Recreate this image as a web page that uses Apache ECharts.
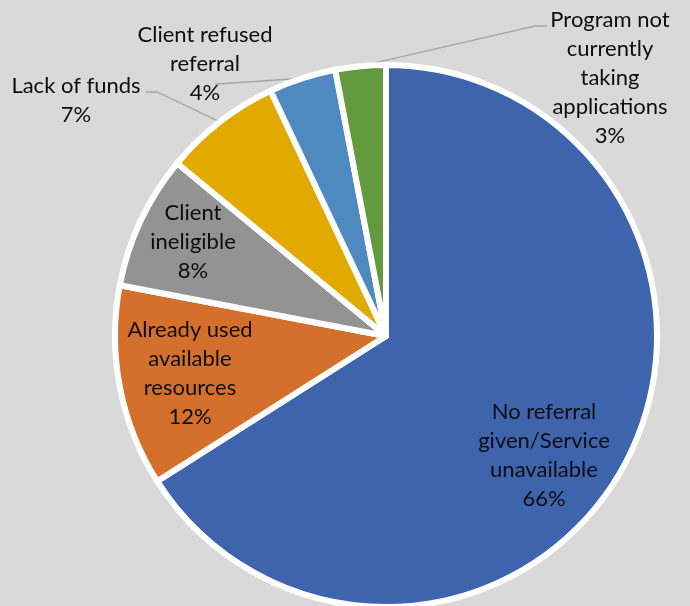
<!DOCTYPE html>
<html>
<head>
<meta charset="utf-8">
<script src="https://cdn.jsdelivr.net/npm/echarts@6/dist/echarts.min.js"></script>
<style>
html,body{margin:0;padding:0;background:#d9d9d9;}
#chart{width:690px;height:606px;}
</style>
</head>
<body>
<div id="chart"></div>
<script>
// ---- data ----
const categories = [
  'No referral\ngiven/Service\nunavailable',
  'Already used\navailable\nresources',
  'Client\nineligible',
  'Lack of funds',
  'Client refused\nreferral',
  'Program not\ncurrently\ntaking\napplications'
];
const percentValues = [66, 12, 8, 7, 4, 3];

// ---- styles / layout ----
const sliceColors = ['#3e64ad', '#d4702b', '#939393', '#e2aa00', '#4e8abf', '#629b3e'];
const CX = 386, CY = 336, R = 271;
// label centres and leader offsets (relative to label centre)
const labelLayoutCfg = [
  { x: 544, y: 455 },
  { x: 190, y: 373 },
  { x: 193, y: 242 },
  { x: 76,  y: 100, line: [[81, -8], [70, -8]] },
  { x: 205, y: 64,  line: [[13, 20], [10, 20]] },
  { x: 610, y: 78,  line: [[-75, -52], [-63, -52]] }
];

const total = percentValues.reduce((a, b) => a + b, 0);
const midFractions = [];
let acc = 0;
percentValues.forEach(v => { midFractions.push((acc + v / 2) / total); acc += v; });

const chart = echarts.init(document.getElementById('chart'), null, { renderer: 'canvas' });
chart.setOption({
  backgroundColor: '#d9d9d9',
  animation: false,
  series: [{
    type: 'pie',
    center: [CX, CY],
    radius: R,
    startAngle: 90,
    clockwise: true,
    avoidLabelOverlap: false,
    itemStyle: { borderColor: '#ffffff', borderWidth: 6 },
    label: {
      show: true,
      position: 'outside',
      color: '#0d0d0d',
      fontFamily: 'Lato',
      fontSize: 22,
      lineHeight: 29,
      overflow: 'none',
      formatter: p => p.name + '\n' + p.value + '%'
    },
    labelLine: { show: true, lineStyle: { color: '#a6a6a6', width: 1.3 } },
    labelLayout: function (params) {
      const i = params.dataIndex;
      const cfg = labelLayoutCfg[i];
      const out = { x: cfg.x, y: cfg.y, align: 'center', verticalAlign: 'middle' };
      if (cfg.line) {
        const th = midFractions[i] * Math.PI * 2;
        const start = [CX + R * Math.sin(th), CY - R * Math.cos(th)];
        out.labelLinePoints = [start].concat(cfg.line.map(o => [cfg.x + o[0], cfg.y + o[1]]));
      }
      return out;
    },
    emphasis: { disabled: true },
    data: categories.map((name, i) => ({
      name: name,
      value: percentValues[i],
      itemStyle: { color: sliceColors[i] },
      labelLine: { show: i >= 3 }
    }))
  }]
});
</script>
</body>
</html>
